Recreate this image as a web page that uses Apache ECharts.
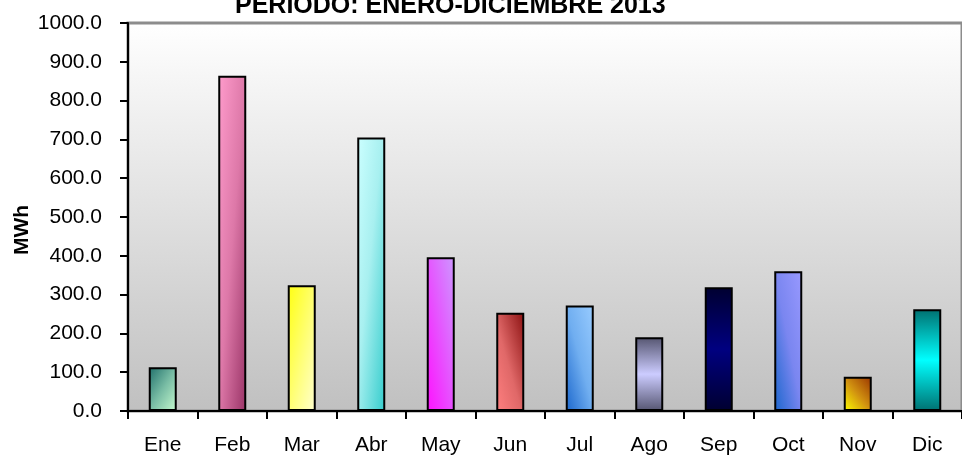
<!DOCTYPE html>
<html>
<head>
<meta charset="utf-8">
<style>
  html, body { margin: 0; padding: 0; background: #ffffff; }
  #chart { width: 962px; height: 460px; }
</style>
<script src="https://cdn.jsdelivr.net/npm/echarts@6/dist/echarts.min.js"></script>
</head>
<body>
<div id="chart"></div>
<script>
// Monthly energy, MWh
const months = ['Ene', 'Feb', 'Mar', 'Abr', 'May', 'Jun', 'Jul', 'Ago', 'Sep', 'Oct', 'Nov', 'Dic'];
const energyMWh = [113, 864, 324, 705, 396, 253, 272, 190, 319, 360, 88, 262];
const yTicks = { min: 0, max: 1000, interval: 100 };

const FONT = "'Liberation Sans', Arial, sans-serif";

// layout constants
const GRID = { left: 128, right: -6, top: 23, bottom: 49 };
const BAR_W = 28;
const PLOT_H = 460 - GRID.top - GRID.bottom;

function stopsOf(list) {
  return list.map(s => ({ offset: s[0], color: s[1] }));
}

// Diagonal fill whose colour varies with (u + v) in the bar's own box,
// so a tall bar still shades mostly from one side to the other.
function diag(value, up, list) {
  const w = BAR_W;
  const h = Math.max(1, value / yTicks.max * PLOT_H);
  const k = 2 / (1 / (w * w) + 1 / (h * h));
  const ex = k / (w * w);
  const ey = k / (h * h);
  return up
    ? new echarts.graphic.LinearGradient(0, 1, ex, 1 - ey, stopsOf(list))
    : new echarts.graphic.LinearGradient(0, 0, ex, ey, stopsOf(list));
}

function vert(list) {
  return new echarts.graphic.LinearGradient(0, 0, 0, 1, stopsOf(list));
}

// fill style for each month's bar
const barStyles = [
  { kind: 'down', stops: [[0, '#1e6e6a'], [0.5, '#78bca4'], [1, '#c8fcd0']] },
  { kind: 'down', stops: [[0, '#ff9ccc'], [0.5, '#dd78a8'], [1, '#993366']] },
  { kind: 'down', stops: [[0, '#ffff10'], [1, '#ffffd0']] },
  { kind: 'down', stops: [[0, '#ccffff'], [0.45, '#a8f0f0'], [1, '#33cccc']] },
  { kind: 'up',   stops: [[0, '#ff10ff'], [1, '#cc99ff']] },
  { kind: 'up',   stops: [[0, '#ff8080'], [0.45, '#e06868'], [1, '#8a1010']] },
  { kind: 'up',   stops: [[0, '#1a66cc'], [0.5, '#70aef0'], [1, '#99ccff']] },
  { kind: 'vert', stops: [[0, '#555570'], [0.5, '#ccccff'], [1, '#555570']] },
  { kind: 'vert', stops: [[0, '#000030'], [0.5, '#000080'], [1, '#000030']] },
  { kind: 'up',   stops: [[0, '#1a66cc'], [0.5, '#7a86f0'], [1, '#9999ff']] },
  { kind: 'up',   stops: [[0, '#ffff00'], [0.5, '#d09010'], [1, '#993300']] },
  { kind: 'vert', stops: [[0, '#007070'], [0.5, '#00ffff'], [1, '#007070']] }
];

function fillFor(i, value) {
  const s = barStyles[i];
  if (s.kind === 'vert') return vert(s.stops);
  return diag(value, s.kind === 'up', s.stops);
}

const chart = echarts.init(document.getElementById('chart'), null, { renderer: 'canvas' });

chart.setOption({
  animation: false,
  backgroundColor: '#ffffff',
  title: {
    text: 'PERIODO: ENERO-DICIEMBRE 2013',
    left: 230,
    top: -11,
    textStyle: { fontFamily: FONT, fontSize: 25, fontWeight: 'bold', color: '#000000' }
  },
  graphic: [{
    type: 'text',
    x: 22,
    y: 230,
    rotation: Math.PI / 2,
    style: {
      text: 'MWh',
      font: "bold 21px 'Liberation Sans', Arial, sans-serif",
      fill: '#000000',
      align: 'center',
      verticalAlign: 'middle'
    }
  }],
  grid: {
    left: GRID.left,
    right: GRID.right,
    top: GRID.top,
    bottom: GRID.bottom,
    show: true,
    borderWidth: 3,
    borderColor: '#8c8c8c',
    backgroundColor: vert([[0, '#ffffff'], [1, '#c0c0c0']])
  },
  xAxis: {
    type: 'category',
    data: months,
    axisLine: { show: true, lineStyle: { color: '#000000', width: 2 } },
    axisTick: { show: true, length: 8, lineStyle: { color: '#000000', width: 2 } },
    axisLabel: { margin: 24, fontFamily: FONT, fontSize: 21, color: '#000000' }
  },
  yAxis: {
    type: 'value',
    min: yTicks.min,
    max: yTicks.max,
    interval: yTicks.interval,
    axisLine: { show: true, lineStyle: { color: '#000000', width: 2 } },
    axisTick: { show: true, length: 8, lineStyle: { color: '#000000', width: 2 } },
    splitLine: { show: false },
    axisLabel: {
      margin: 26,
      fontFamily: FONT,
      fontSize: 21,
      color: '#000000',
      formatter: v => v.toFixed(1)
    }
  },
  series: [{
    type: 'bar',
    barWidth: BAR_W,
    data: energyMWh.map((v, i) => ({
      value: v,
      itemStyle: { color: fillFor(i, v) }
    })),
    itemStyle: { borderColor: '#000000', borderWidth: 2 }
  }]
});
</script>
</body>
</html>
